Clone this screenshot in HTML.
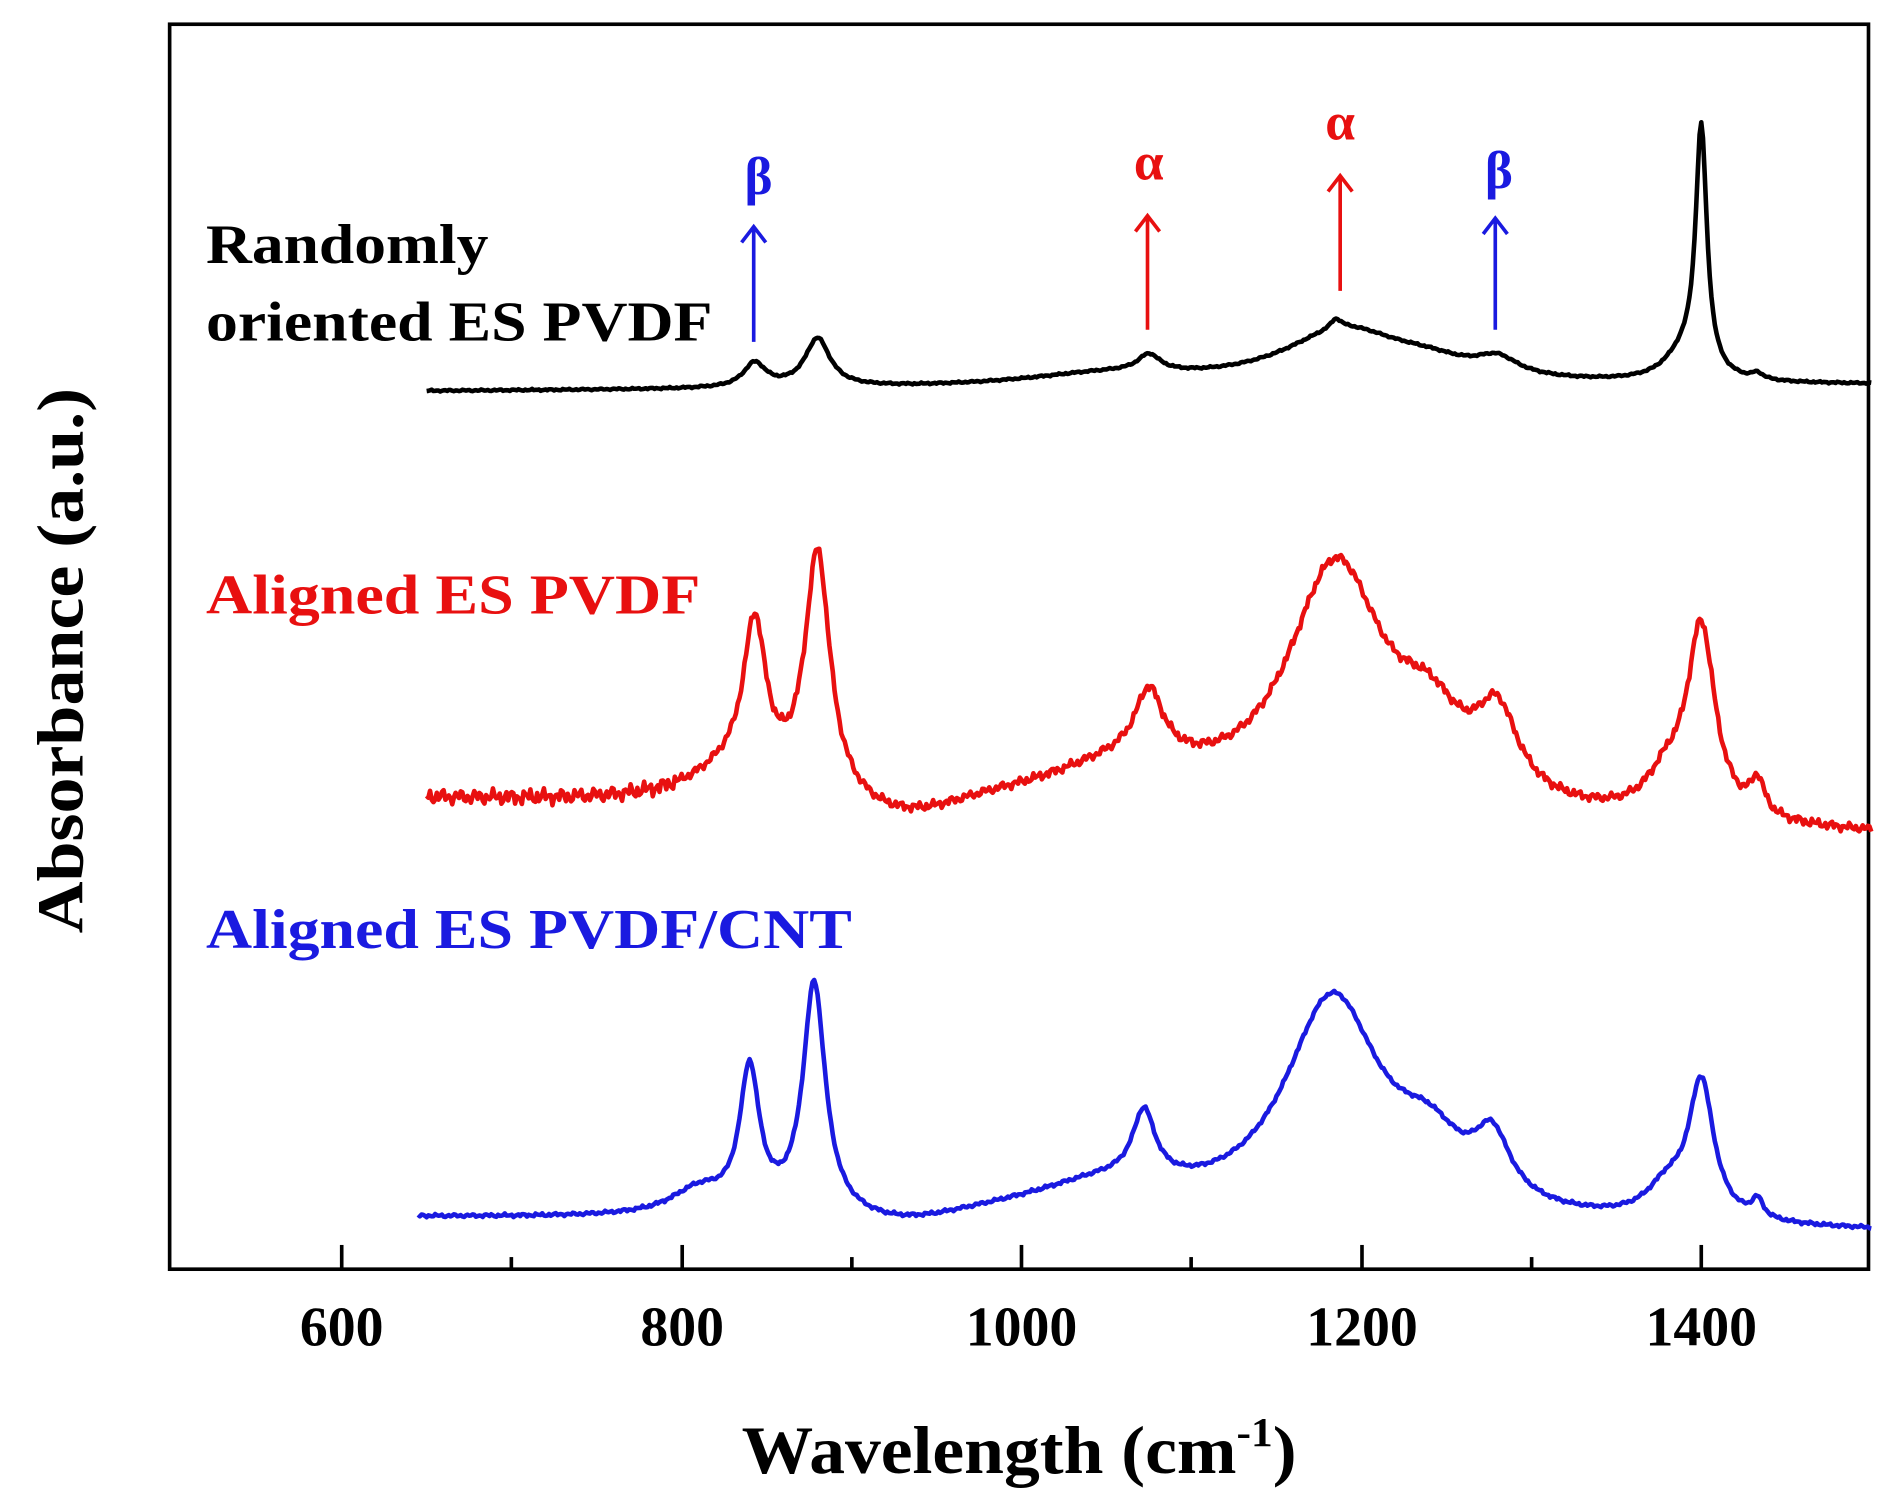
<!DOCTYPE html>
<html><head><meta charset="utf-8"><style>
html,body{margin:0;padding:0;background:#fff;}
svg{display:block;}
text{font-family:"Liberation Serif",serif;font-weight:bold;}
</style></head><body>
<svg id="s" width="1900" height="1508" viewBox="0 0 1568 1244" preserveAspectRatio="none" xmlns="http://www.w3.org/2000/svg">
<rect x="0" y="0" width="1568" height="1244" fill="#fff"/>
<rect x="140" y="20" width="1402" height="1027" fill="none" stroke="#000" stroke-width="3"/>
<g stroke="#000" stroke-width="3">
<line x1="282" y1="1047" x2="282" y2="1027"/><line x1="563" y1="1047" x2="563" y2="1027"/>
<line x1="843" y1="1047" x2="843" y2="1027"/><line x1="1124" y1="1047" x2="1124" y2="1027"/>
<line x1="1404" y1="1047" x2="1404" y2="1027"/>
<line x1="422" y1="1047" x2="422" y2="1037"/><line x1="703" y1="1047" x2="703" y2="1037"/>
<line x1="983" y1="1047" x2="983" y2="1037"/><line x1="1264" y1="1047" x2="1264" y2="1037"/>
</g>
<g font-size="46" text-anchor="middle">
<text x="282" y="1110">600</text><text x="563" y="1110">800</text><text x="843" y="1110">1000</text>
<text x="1124" y="1110">1200</text><text x="1404" y="1110">1400</text>
</g>
<text x="612" y="1215" font-size="56" textLength="458" lengthAdjust="spacingAndGlyphs">Wavelength (cm<tspan dy="-22" font-size="34">-1</tspan><tspan dy="22">)</tspan></text>
<text transform="translate(68,545) rotate(-90)" font-size="54" text-anchor="middle" textLength="450" lengthAdjust="spacingAndGlyphs">Absorbance (a.u.)</text>
<g font-size="46">
<text x="170" y="217" textLength="233" lengthAdjust="spacingAndGlyphs">Randomly</text>
<text x="170" y="281" textLength="418" lengthAdjust="spacingAndGlyphs">oriented ES PVDF</text>
<text x="170" y="506" fill="#e81010" textLength="408" lengthAdjust="spacingAndGlyphs">Aligned ES PVDF</text>
<text x="170" y="782" fill="#1a1ae0" textLength="533" lengthAdjust="spacingAndGlyphs">Aligned ES PVDF/CNT</text>
</g>
<g font-size="44" text-anchor="middle">
<text x="626" y="160" fill="#1a1ae0">β</text>
<text x="948" y="148" fill="#e81010">α</text>
<text x="1106" y="115" fill="#e81010">α</text>
<text x="1237" y="155" fill="#1a1ae0">β</text>
</g>
<g stroke-width="3" fill="none">
<path d="M622 282V187M612 200L622 187L632 200" stroke="#1a1ae0"/>
<path d="M947 272V178M937 191L947 178L957 191" stroke="#e81010"/>
<path d="M1106 240V145M1096 158L1106 145L1116 158" stroke="#e81010"/>
<path d="M1234 272V180M1224 193L1234 180L1244 193" stroke="#1a1ae0"/>
</g>
<g id="curves" fill="none" stroke-width="3.8" stroke-linejoin="round"></g>
</svg>
<script>
function X(w){return 282+(w-600)*1.4025;}
function L(w,p){var s=0;for(var i=0;i<p.length;i++){var d=(w-p[i][0])/p[i][2];s+=p[i][1]/(1+d*d);}return s;}
function noise(w,a,seed){return a*(Math.sin(w*1.7+seed)*0.5+Math.sin(w*0.63+seed*2)*0.35+Math.sin(w*3.1+seed*3)*0.25);}
function mk(color,w0,w1,f){var d="";for(var w=w0;w<=w1;w+=1){d+=(w==w0?"M":"L")+X(w).toFixed(1)+" "+f(w).toFixed(1);}
var p=document.createElementNS("http://www.w3.org/2000/svg","path");p.setAttribute("d",d);p.setAttribute("stroke",color);document.getElementById("curves").appendChild(p);}
var kb=[[843,20,8],[880,40,9],[1075,14,8],[1050,10,60],[1190,45,45],[1185,8,4],[1240,10,30],[1280,14,15],[1400,200,4],[1390,22,14],[1433,5,4]];
mk("#000",650,1500,function(w){return 323-(w-650)*5/850-L(w,kb)+noise(w,0.8,1);});
var kr=[[843,125,8],[880,200,9],[830,25,30],[1075,55,10],[1060,35,60],[1185,200,35],[1240,55,25],[1280,65,15],[1400,155,10],[1380,30,15],[1433,28,5]];
mk("#e81010",650,1500,function(w){var b=660+(w-650)*30/850+15*Math.exp(-Math.pow((w-930)/40,2));var nn=(w<800)?7:4;return b-L(w,kr)+noise(w,nn,2);});
var kbl=[[840,115,7],[878,190,8],[810,20,20],[1072,55,8],[1050,28,60],[1183,180,35],[1240,45,25],[1277,50,13],[1400,112,9],[1380,25,15],[1433,15,4]];
mk("#1a1ae0",645,1500,function(w){var b=1005+(w-645)*12/855+8*Math.exp(-Math.pow((w-930)/40,2));return b-L(w,kbl)+noise(w,1.5,3);});
</script>
</body></html>
